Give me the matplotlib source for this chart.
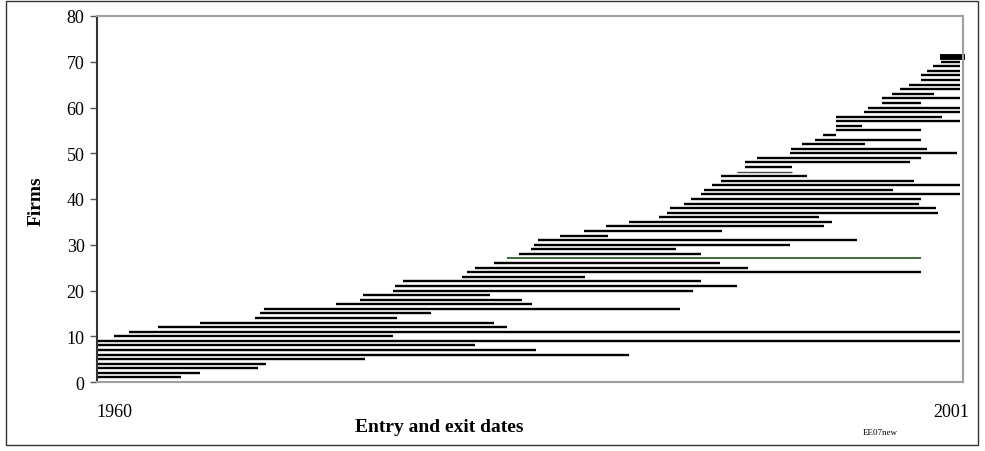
import matplotlib
matplotlib.use("Agg")
import matplotlib.pyplot as plt
from matplotlib.patches import Rectangle

# ---- data: firm index, entry and exit dates ----
firms = list(range(1, 72))
entry = [1960, 1960, 1960, 1960, 1960, 1960, 1960, 1960, 1960, 1960.8,
         1961.5, 1962.9, 1964.9, 1967.5, 1967.7, 1967.9, 1971.3, 1972.45, 1972.6, 1974.0,
         1974.1, 1974.5, 1977.3, 1977.5, 1977.9, 1978.8, 1979.4, 1980.0, 1980.55, 1980.7,
         1980.9, 1981.9, 1983.05, 1984.1, 1985.2, 1986.6, 1987.0, 1987.15, 1987.8, 1988.1,
         1988.6, 1988.75, 1989.1, 1989.55, 1989.55, 1990.3, 1990.7, 1990.7, 1991.25, 1992.8,
         1992.85, 1993.4, 1994.0, 1994.35, 1995.0, 1995.0, 1995.0, 1995.0, 1996.3, 1996.5,
         1997.15, 1997.15, 1997.65, 1998.0, 1998.45, 1999.0, 1999.0, 1999.3, 1999.6, 1999.95,
         1999.9]
exit_ = [1964.0, 1964.9, 1967.6, 1968.0, 1972.7, 1985.2, 1980.8, 1977.9, 2000.85, 1974.0,
         2000.85, 1979.4, 1978.8, 1974.2, 1975.8, 1987.6, 1980.6, 1980.1, 1978.6, 1988.2,
         1990.3, 1988.6, 1983.1, 1999.0, 1990.8, 1989.5, 1999.0, 1988.6, 1987.4, 1992.8,
         1996.0, 1984.2, 1989.6, 1994.4, 1994.8, 1994.2, 1999.8, 1999.7, 1998.9, 1999.0,
         2000.85, 1997.7, 2000.85, 1998.7, 1993.6, 1992.9, 1992.9, 1998.5, 1999.0, 2000.7,
         1999.3, 1996.35, 1999.0, 1995.0, 1999.0, 1996.2, 2000.85, 2000.0, 2000.85, 2000.85,
         1999.0, 2000.85, 1999.65, 2000.85, 2000.85, 2000.85, 2000.85, 2000.85, 2000.85, 2000.85,
         2001.1]
green_firm = 27
thin_firm = 46
thick_firm = 71

y_ticks = [0, 10, 20, 30, 40, 50, 60, 70, 80]
x_start_label = "1960"
x_end_label = "2001"

W, H = 985, 452
fig = plt.figure(figsize=(W / 100, H / 100), dpi=100)
serif = ["Liberation Serif", "DejaVu Serif"]

ax = fig.add_axes([97 / W, 1 - 383 / H, 866 / W, 366 / H])
ax.set_xlim(1960, 2001)
ax.set_ylim(0, 80)

for f, a, b in zip(firms, entry, exit_):
    if f == green_firm:
        ax.hlines(f, a, b, color="#1e4d1e", lw=1.2)
    elif f == thin_firm:
        ax.hlines(f, a, b, color="#444444", lw=1.0)
    elif f == thick_firm:
        ax.hlines(f, a, b, color="black", lw=4.2, clip_on=False)
    else:
        ax.hlines(f, a, b, color="black", lw=1.7)

ax.set_yticks(y_ticks)
ax.set_yticklabels([str(t) for t in y_ticks], fontfamily=serif, fontsize=13)
ax.set_xticks([])
ax.tick_params(axis="y", length=5, width=1, color="#555555", pad=4)

for side in ["top", "right", "bottom"]:
    ax.spines[side].set_color("#a0a0a0")
    ax.spines[side].set_linewidth(1.5)
ax.spines["left"].set_color("#333333")
ax.spines["left"].set_linewidth(1.5)

fig.text(36 / W, 1 - 201 / H, "Firms", rotation=90, ha="center", va="center",
         fontfamily=serif, fontsize=14, fontweight="bold")
fig.text(439 / W, 1 - 428 / H, "Entry and exit dates", ha="center", va="center",
         fontfamily=serif, fontsize=14, fontweight="bold")
fig.text(114 / W, 1 - 413 / H, x_start_label, ha="center", va="center",
         fontfamily=serif, fontsize=13)
fig.text(951 / W, 1 - 413 / H, x_end_label, ha="center", va="center",
         fontfamily=serif, fontsize=13)
fig.text(880 / W, 1 - 433 / H, "EE07new", ha="center", va="center",
         fontfamily=serif, fontsize=6.5)

fig.patches.append(Rectangle((6 / W, 1 - 446 / H), 972 / W, 444 / H,
                             transform=fig.transFigure, fill=False,
                             edgecolor="#333333", lw=1.0))

fig.savefig("out.png", dpi=100)
